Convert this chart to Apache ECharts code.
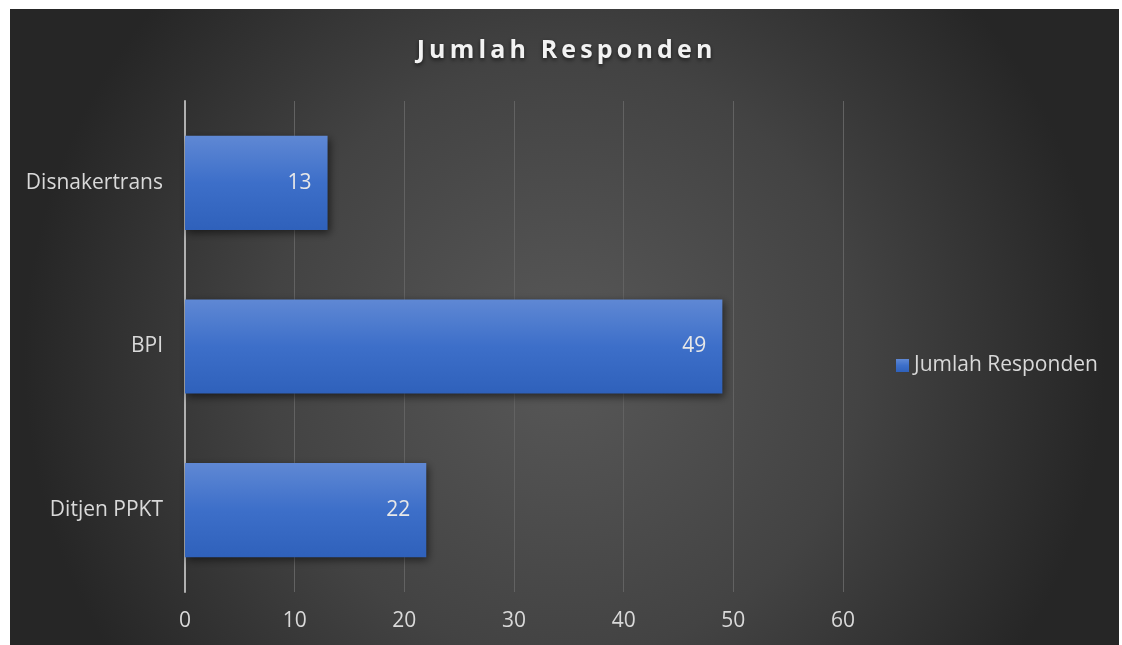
<!DOCTYPE html>
<html>
<head>
<meta charset="utf-8">
<script src="https://cdn.jsdelivr.net/npm/echarts@6/dist/echarts.min.js"></script>
<style>
  html, body { margin: 0; padding: 0; background: #ffffff; width: 1122px; height: 645px; overflow: hidden; }
  #chart { position: absolute; left: 10px; top: 9px; width: 1109px; height: 636px; }
</style>
</head>
<body>
<div id="chart"></div>
<script>
const titleText = 'Jumlah Responden';
const seriesName = 'Jumlah Responden';
const categories = ['Ditjen PPKT', 'BPI', 'Disnakertrans'];
const values = [22, 49, 13];
const axisMin = 0;
const axisMax = 60;
const axisInterval = 10;

const chart = echarts.init(document.getElementById('chart'), null, { renderer: 'canvas' });
const fontFam = '"Open Sans", sans-serif';
chart.setOption({
  backgroundColor: {
    type: 'radial', x: 0.5, y: 0.55, r: 0.85,
    colorStops: [
      { offset: 0, color: '#585858' },
      { offset: 0.55, color: '#434343' },
      { offset: 1, color: '#262626' }
    ]
  },
  title: {
    text: titleText.split('').join('\u2009'),
    left: 'center',
    top: 24,
    textStyle: {
      color: '#f2f2f2',
      fontFamily: '"Open Sans", sans-serif',
      fontWeight: 'bold',
      fontSize: 25,
      textShadowColor: 'rgba(0,0,0,0.6)',
      textShadowBlur: 4,
      textShadowOffsetY: 2
    }
  },
  legend: {
    data: [seriesName],
    left: 881,
    top: 341,
    orient: 'vertical',
    icon: 'rect',
    itemWidth: 13,
    itemHeight: 13,
    itemGap: 5,
    textStyle: { color: '#d9d9d9', fontSize: 21, fontFamily: fontFam, padding: [0, 0, 0, 0] }
  },
  grid: { left: 175, right: 276, top: 92, bottom: 53, containLabel: false },
  xAxis: {
    type: 'value',
    min: axisMin, max: axisMax, interval: axisInterval,
    axisLine: { show: false },
    axisTick: { show: false },
    splitLine: { show: true, lineStyle: { color: '#626262', width: 1 } },
    axisLabel: { color: '#d9d9d9', fontSize: 21, fontFamily: fontFam, margin: 19 }
  },
  yAxis: {
    type: 'category',
    data: categories,
    axisLine: { show: true, lineStyle: { color: '#b0b0b0', width: 2 } },
    axisTick: { show: false },
    axisLabel: { color: '#d9d9d9', fontSize: 21, fontFamily: fontFam, margin: 22 }
  },
  series: [{
    name: seriesName,
    type: 'bar',
    data: values,
    barWidth: '57.5%',
    itemStyle: {
      color: {
        type: 'linear', x: 0, y: 0, x2: 0, y2: 1,
        colorStops: [
          { offset: 0, color: '#5f88d4' },
          { offset: 0.5, color: '#3d6fc9' },
          { offset: 1, color: '#2f61bb' }
        ]
      },
      shadowColor: 'rgba(0,0,0,0.55)',
      shadowBlur: 8,
      shadowOffsetX: 2,
      shadowOffsetY: 3
    },
    label: {
      show: true,
      position: 'insideRight',
      distance: 16,
      color: '#e8e8e8',
      fontSize: 21,
      fontFamily: fontFam
    }
  }]
});
</script>
</body>
</html>
